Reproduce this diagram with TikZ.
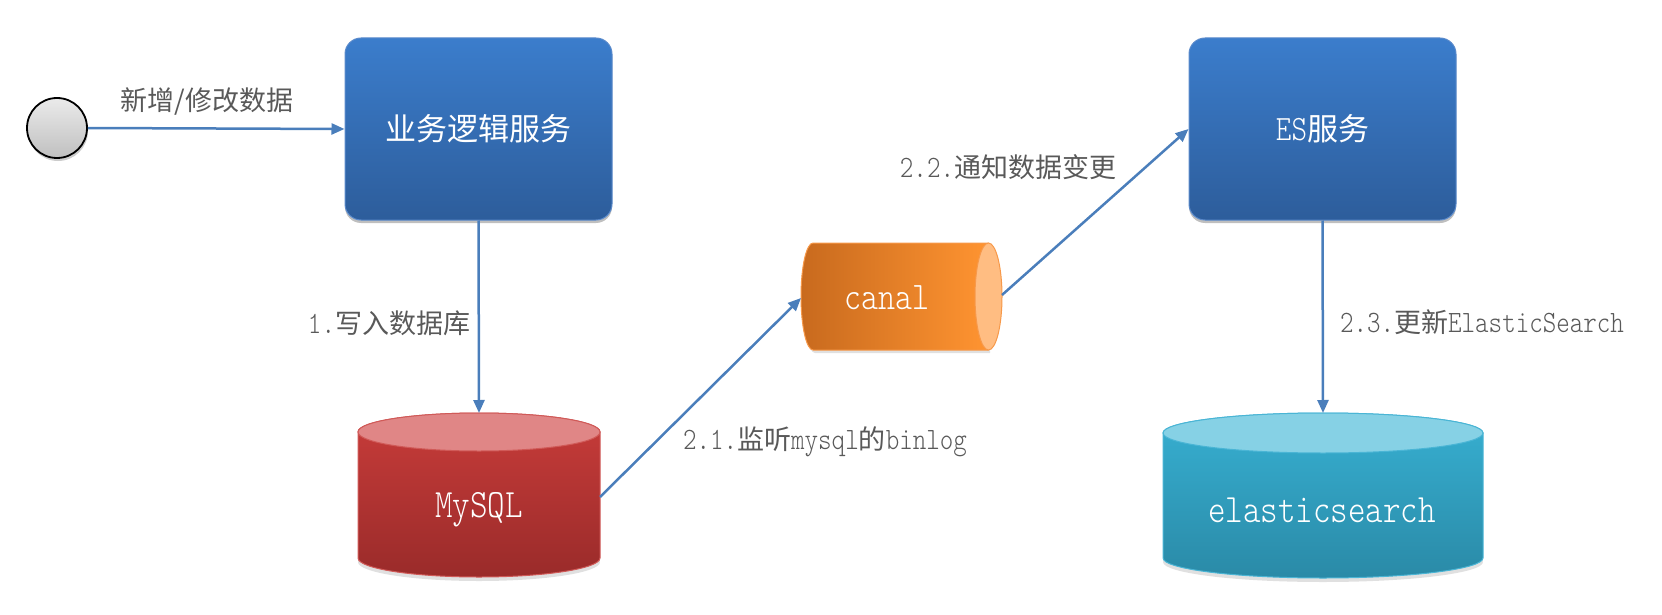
\documentclass[tikz,border=0pt]{standalone}
\usepackage{fontspec}
\setmainfont{lmmonolt10-regular}[Extension=.otf,Scale=1.15,FakeStretch=0.83]
\newfontfamily\cjk{Noto Sans CJK SC}
\usetikzlibrary{arrows.meta,shadows}
\definecolor{arrowblue}{HTML}{4A7EBB}
\definecolor{labelgray}{HTML}{595959}
\definecolor{boxtop}{HTML}{3B7DCC}
\definecolor{boxbot}{HTML}{2D5D9B}
\definecolor{boxedge}{HTML}{5A8ACB}
\definecolor{mytop}{HTML}{C83C3A}
\definecolor{mybot}{HTML}{9A2B2A}
\definecolor{mycap}{HTML}{E08686}
\definecolor{myedge}{HTML}{D05A58}
\definecolor{estop}{HTML}{37B0D2}
\definecolor{esbot}{HTML}{2A8AA7}
\definecolor{escap}{HTML}{86D1E5}
\definecolor{esedge}{HTML}{4AB5D5}
\definecolor{canleft}{HTML}{C86A1E}
\definecolor{canright}{HTML}{FF9431}
\definecolor{cancap}{HTML}{FFBD82}
\definecolor{canedge}{HTML}{F7994A}
\tikzset{
  arr/.style={draw=arrowblue, line width=2.5pt, -{Triangle[length=13pt,width=11pt]}},
  lbl/.style={text=labelgray, font=\fontsize{27}{32}\selectfont, inner sep=0pt},
  svc/.style={rounded corners=16pt, minimum width=267pt, minimum height=182pt,
    top color=boxtop, bottom color=boxbot, draw=boxedge, line width=1pt,
    text=white, font=\fontsize{31}{36}\selectfont,
    drop shadow={shadow xshift=0pt, shadow yshift=-3pt, opacity=0.25, fill=black}},
  dbtext/.style={text=white, font=\fontsize{35}{40}\selectfont, inner sep=0pt},
  startnode/.style={circle, minimum size=60pt, inner sep=0pt, draw=black, line width=1.8pt,
    top color=white!92!black, bottom color=white!75!black,
    drop shadow={shadow xshift=1pt, shadow yshift=-3pt, opacity=0.2, fill=black}},
}
\begin{document}
\begin{tikzpicture}[x=1pt,y=-1pt]
\useasboundingbox (0,0) rectangle (1662,615);

% start circle
\node[startnode] (start) at (57,128) {};

% service boxes
\node[svc] (biz) at (478.5,129) {\cjk 业务逻辑服务};
\node[svc] (es) at (1322.5,129) {ES{\cjk 服务}};

% MySQL cylinder
\fill[black,opacity=0.12] (479,562) ellipse[x radius=121pt,y radius=19pt];
\path[draw=myedge, line width=1pt, top color=mytop, bottom color=mybot]
  (358,432) -- (358,558) arc[start angle=180,end angle=360,x radius=121pt,y radius=19pt]
  -- (600,432) arc[start angle=0,end angle=180,x radius=121pt,y radius=19pt] -- cycle;
\path[draw=myedge, line width=1pt, fill=mycap] (479,432) ellipse[x radius=121pt,y radius=19pt];
\node[dbtext] (mysql) at (479,510) {MySQL};
\coordinate (mysqltop) at (479,413);
\coordinate (mysqlright) at (600,497);

% elasticsearch cylinder
\fill[black,opacity=0.12] (1323,562) ellipse[x radius=160pt,y radius=20pt];
\path[draw=esedge, line width=1pt, top color=estop, bottom color=esbot]
  (1163,433) -- (1163,558) arc[start angle=180,end angle=360,x radius=160pt,y radius=20pt]
  -- (1483,433) arc[start angle=0,end angle=180,x radius=160pt,y radius=20pt] -- cycle;
\path[draw=esedge, line width=1pt, fill=escap] (1323,433) ellipse[x radius=160pt,y radius=20pt];
\node[dbtext] (elastic) at (1322,510) {elasticsearch};
\coordinate (estop) at (1323,413);

% canal horizontal cylinder
\fill[black,opacity=0.12] (815,247) -- (990,247) -- (990,353) -- (815,353) arc[start angle=270,end angle=90,x radius=12pt,y radius=53pt] -- cycle;
\path[draw=canedge, line width=1pt, left color=canleft, right color=canright]
  (813,243) -- (988,243) -- (988,350) -- (813,350)
  arc[start angle=270,end angle=90,x radius=12pt,y radius=53.5pt] -- cycle;
\path[draw=canedge, line width=1pt, fill=cancap] (988.5,296.5) ellipse[x radius=13.5pt,y radius=53.5pt];
\node[dbtext, font=\fontsize{34}{40}\selectfont] (canal) at (887,298) {canal};
\coordinate (canalin) at (801,298);
\coordinate (canalout) at (1002,295);

% connectors
\draw[arr] (start.east) -- (biz.west);
\draw[arr] (biz.south) -- (mysqltop);
\draw[arr] (mysqlright) -- (canalin);
\draw[arr] (canalout) -- (es.west);
\draw[arr] (es.south) -- (estop);

% labels
\node[lbl] (l0) at (207,102) {\cjk 新增/修改数据};
\node[lbl] (l1) at (389,323) {1.{\cjk 写入数据库}};
\node[lbl] (l21) at (825,442) {2.1.{\cjk 监听}mysql{\cjk 的}binlog};
\node[lbl] (l22) at (1008,167) {2.2.{\cjk 通知数据变更}};
\node[lbl] (l23) at (1482,322) {2.3.{\cjk 更新}ElasticSearch};
\end{tikzpicture}
\end{document}
